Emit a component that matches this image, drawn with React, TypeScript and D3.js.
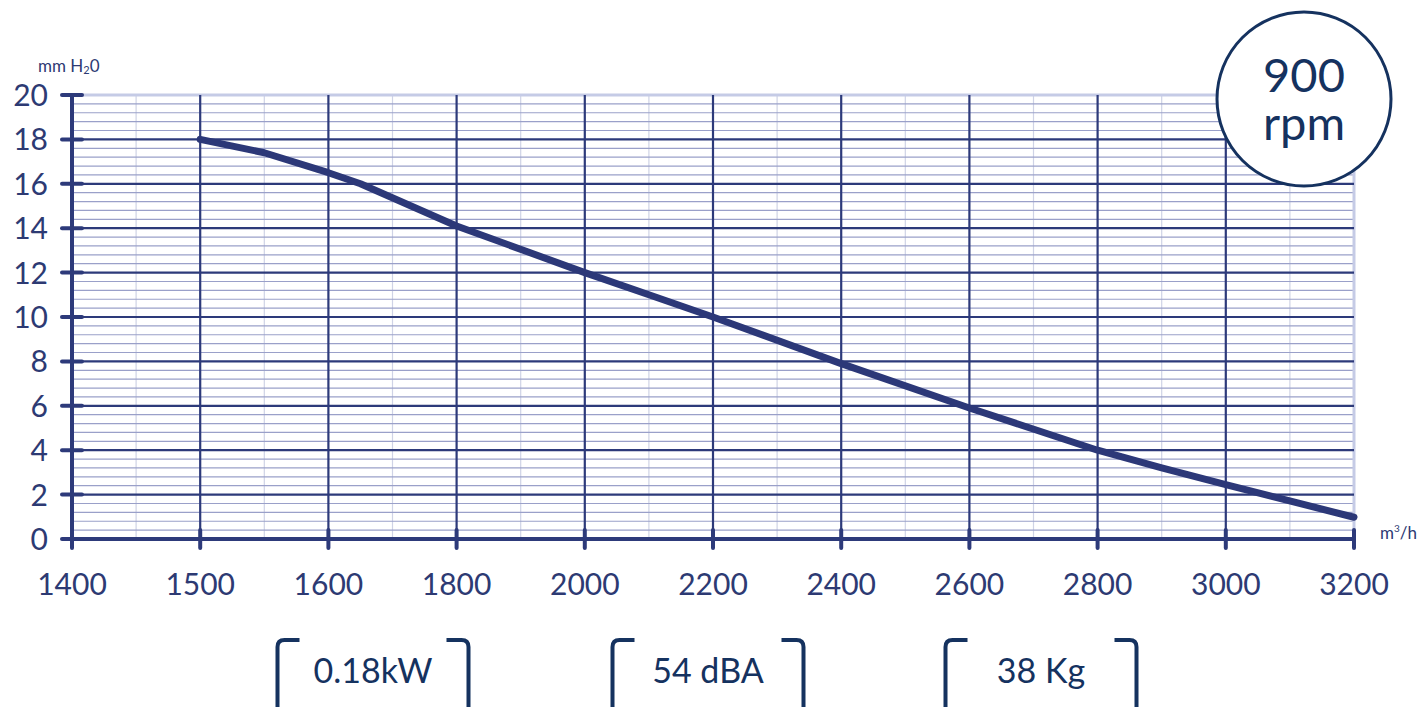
import React from "react";
import * as d3 from "d3";

const xTicks = [1400, 1500, 1600, 1800, 2000, 2200, 2400, 2600, 2800, 3000, 3200];
const yTicks = [0, 2, 4, 6, 8, 10, 12, 14, 16, 18, 20];
const flow = [1500, 1550, 1600, 1650, 1800, 2000, 2100, 2200, 2400, 2600, 2800, 2900, 3000, 3200];
const pressure = [18, 17.4, 16.5, 16.0, 14.1, 12.0, 11.0, 10.0, 7.9, 5.9, 4.0, 3.2, 2.45, 0.98];
const specs = ["0.18kW", "54 dBA", "38 Kg"];
const speedLabel = ["900", "rpm"];

const W = 1423, H = 707;
const X0 = 72, X1 = 1354, Y0 = 539, Y1 = 95;
const AX = "#2d3a7a";
const NAVY = "#15325f";
const TXT = "#2d3a73";
const FONT = "Lato, 'Open Sans', sans-serif";

export default function App() {
  const step = (X1 - X0) / (xTicks.length - 1);
  const x = d3.scaleLinear().domain(xTicks).range(xTicks.map((_, i) => X0 + i * step));
  const y = d3.scaleLinear().domain([0, 20]).range([Y0, Y1]);

  const minorX = xTicks.slice(0, -1).map((v, i) => (v + xTicks[i + 1]) / 2);
  const minorY = d3.range(0, 20.001, 0.4).filter((v) => Math.abs(v / 2 - Math.round(v / 2)) > 1e-6);

  const line = d3
    .line<number>()
    .x((_, i) => x(flow[i]))
    .y((d) => y(d));

  const boxCenters = [373, 708, 1041];
  const boxW = 191;

  const bracket = (cx: number, side: number) => {
    const xe = cx + (side * boxW) / 2;
    const top = 640, bot = 716, arm = 22, r = 7;
    const dir = -side;
    return `M${xe + dir * arm},${top} L${xe + dir * r},${top} Q${xe},${top} ${xe},${top + r} L${xe},${bot - r} Q${xe},${bot} ${xe + dir * r},${bot} L${xe + dir * arm},${bot}`;
  };

  return (
    <svg width={W} height={H} style={{ position: "absolute", left: 0, top: 0, background: "#fff" }}>
      {/* minor vertical grid */}
      {minorX.map((v) => (
        <line key={"mx" + v} x1={x(v)} x2={x(v)} y1={Y1} y2={Y0} stroke="#cfd3e6" strokeWidth={1.2} />
      ))}
      {/* minor horizontal grid */}
      {minorY.map((v) => (
        <line key={"my" + v} x1={X0} x2={X1} y1={y(v)} y2={y(v)} stroke="#9aa0c9" strokeWidth={1.2} />
      ))}
      {/* right edge + top edge */}
      <line x1={X1} x2={X1} y1={Y1} y2={Y0} stroke="#c5cbe6" strokeWidth={3} />
      <line x1={X0} x2={X1} y1={y(20)} y2={y(20)} stroke="#c5cbe6" strokeWidth={3} />
      {/* major horizontal grid */}
      {yTicks.filter((v) => v > 0 && v < 20).map((v) => (
        <line key={"My" + v} x1={X0} x2={X1} y1={y(v)} y2={y(v)} stroke={AX} strokeWidth={2.2} />
      ))}
      {/* major vertical grid */}
      {xTicks.slice(1, -1).map((v) => (
        <line key={"Mx" + v} x1={x(v)} x2={x(v)} y1={Y1} y2={Y0} stroke={AX} strokeWidth={2.2} />
      ))}
      {/* axes */}
      <line x1={X0} x2={X0} y1={Y1 - 2} y2={Y0 + 9} stroke={AX} strokeWidth={4} />
      <line x1={X0 - 10} x2={X1} y1={Y0} y2={Y0} stroke={AX} strokeWidth={4} />
      {yTicks.map((v) => (
        <line key={"ty" + v} x1={X0 - 10} x2={X0 + 10} y1={y(v)} y2={y(v)} stroke={AX} strokeWidth={4} strokeLinecap="round" />
      ))}
      {xTicks.map((v) => (
        <line key={"tx" + v} x1={x(v)} x2={x(v)} y1={Y0 - 9} y2={Y0 + 9} stroke={AX} strokeWidth={4} strokeLinecap="round" />
      ))}
      {/* tick labels */}
      {yTicks.map((v) => (
        <text key={"ly" + v} x={48} y={y(v) + 11} textAnchor="end" fontFamily={FONT} fontSize={30} fill={TXT}>
          {v}
        </text>
      ))}
      {xTicks.map((v) => (
        <text key={"lx" + v} x={x(v)} y={595} textAnchor="middle" fontFamily={FONT} fontSize={30} fill={TXT}>
          {v}
        </text>
      ))}
      {/* units */}
      <text x={38} y={72} fontFamily={FONT} fontSize={17} fill={TXT}>
        mm H<tspan fontSize={11} dy={2}>2</tspan><tspan dy={-2}>0</tspan>
      </text>
      <text x={1380} y={539} fontFamily={FONT} fontSize={17} fill={TXT}>
        m<tspan fontSize={10} dy={-7}>3</tspan><tspan dy={7}>/h</tspan>
      </text>
      {/* curve */}
      <path d={line(pressure) || ""} fill="none" stroke="#2c3878" strokeWidth={7} strokeLinejoin="round" strokeLinecap="round" />
      {/* speed badge */}
      <circle cx={1304} cy={99} r={87} fill="#fff" stroke={NAVY} strokeWidth={3} />
      <text textAnchor="middle" fontFamily={FONT} fontSize={47} fill={NAVY}>
        <tspan x={1304} y={92}>{speedLabel[0]}</tspan>
        <tspan x={1304} y={140}>{speedLabel[1]}</tspan>
      </text>
      {/* spec boxes */}
      {specs.map((s, i) => (
        <g key={s}>
          <path d={bracket(boxCenters[i], -1)} fill="none" stroke={NAVY} strokeWidth={4} />
          <path d={bracket(boxCenters[i], 1)} fill="none" stroke={NAVY} strokeWidth={4} />
          <text x={boxCenters[i]} y={683} textAnchor="middle" fontFamily={FONT} fontSize={34} fill={NAVY}>
            {s}
          </text>
        </g>
      ))}
    </svg>
  );
}
